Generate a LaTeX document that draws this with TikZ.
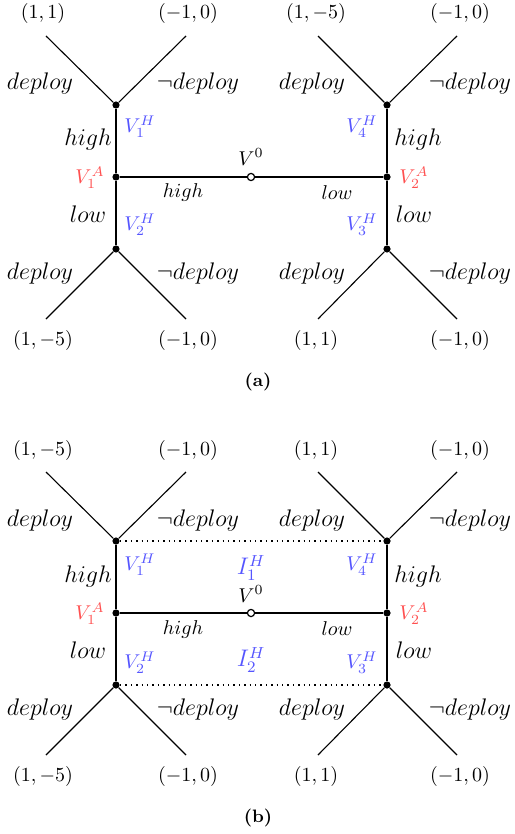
\documentclass[tikz,border=0pt]{standalone}
\usepackage{amsmath}
\definecolor{hblue}{RGB}{85,85,255}
\definecolor{ared}{RGB}{255,80,80}
\begin{document}
\begin{tikzpicture}[x=0.5pt,y=-0.5pt,
  dot/.style={circle,fill=black,inner sep=0pt,minimum size=3.6pt},
  odot/.style={circle,draw=black,fill=white,line width=0.6pt,inner sep=0pt,minimum size=3.6pt},
  edge/.style={line width=0.55pt},
  dotedge/.style={line width=0.7pt,dotted},
  txt/.style={inner sep=0.5pt},
  act/.style={txt,font=\fontsize{12}{14}\selectfont},
  side/.style={txt,font=\fontsize{11.5}{14}\selectfont},
  mid/.style={txt,font=\fontsize{10}{12}\selectfont},
  pay/.style={txt,font=\fontsize{9.8}{11}\selectfont},
  vh/.style={txt,text=hblue,font=\fontsize{10}{12}\selectfont},
  ih/.style={txt,text=hblue,font=\fontsize{12}{14}\selectfont},
  va/.style={txt,text=ared,font=\fontsize{10}{12}\selectfont},
  vz/.style={txt,font=\fontsize{10}{12}\selectfont},
  captxt/.style={txt,font=\fontsize{9}{11}\selectfont\bfseries}
]
\useasboundingbox (0,0) rectangle (514,834);

% ================= (a) =================
\node[dot] (a1A) at (116,177) {};
\node[dot] (a2A) at (387,177) {};
\node[odot] (a0) at (251,177) {};
\node[dot] (a1H) at (116,105) {};
\node[dot] (a2H) at (116,249) {};
\node[dot] (a4H) at (387,105) {};
\node[dot] (a3H) at (387,249) {};
\coordinate (a1Hl) at (46,36);
\coordinate (a1Hr) at (186,36);
\coordinate (a4Hl) at (318,36);
\coordinate (a4Hr) at (457,36);
\coordinate (a2Hl) at (46,319);
\coordinate (a2Hr) at (186,319);
\coordinate (a3Hl) at (318,319);
\coordinate (a3Hr) at (457,319);

\draw[edge] (a1A) -- (a0) -- (a2A);
\draw[edge] (a1H) -- (a1A) -- (a2H);
\draw[edge] (a4H) -- (a2A) -- (a3H);
\draw[edge] (a1Hl) -- (a1H) -- (a1Hr);
\draw[edge] (a4Hl) -- (a4H) -- (a4Hr);
\draw[edge] (a2Hl) -- (a2H) -- (a2Hr);
\draw[edge] (a3Hl) -- (a3H) -- (a3Hr);

\node[pay] (ap1) at (43,14) {$(1,1)$};
\node[pay] (ap2) at (188,14) {$(-1,0)$};
\node[pay] (ap3) at (316,14) {$(1,-5)$};
\node[pay] (ap4) at (460,14) {$(-1,0)$};
\node[pay] (ap5) at (43,340) {$(1,-5)$};
\node[pay] (ap6) at (188,340) {$(-1,0)$};
\node[pay] (ap7) at (316,340) {$(1,1)$};
\node[pay] (ap8) at (460,340) {$(-1,0)$};

\node[act] (ad1) at (40,84) {$deploy$};
\node[act] (ad2) at (198,84) {$\neg deploy$};
\node[act] (ad3) at (312,84) {$deploy$};
\node[act] (ad4) at (470,84) {$\neg deploy$};
\node[act] (ad5) at (40,273) {$deploy$};
\node[act] (ad6) at (198,273) {$\neg deploy$};
\node[act] (ad7) at (312,273) {$deploy$};
\node[act] (ad8) at (470,273) {$\neg deploy$};

\node[side] (ah1) at (88,140) {$high$};
\node[side] (ah2) at (418,140) {$high$};
\node[side] (al1) at (88,214) {$low$};
\node[side] (al2) at (414,214) {$low$};
\node[mid] (ahm) at (183,193) {$high$};
\node[mid] (alm) at (337,193) {$low$};

\node[vh] (aV1) at (140,127) {$V_1^H$};
\node[vh] (aV4) at (362,127) {$V_4^H$};
\node[vh] (aV2) at (140,225) {$V_2^H$};
\node[vh] (aV3) at (362,225) {$V_3^H$};
\node[va] (aA1) at (90,178) {$V_1^A$};
\node[va] (aA2) at (414,178) {$V_2^A$};
\node[vz] (aV0) at (251,157) {$V^0$};

\node[captxt] (capa) at (258,382) {(a)};

% ================= (b) =================
\begin{scope}[shift={(0,436)}]
\node[dot] (b1A) at (116,177) {};
\node[dot] (b2A) at (387,177) {};
\node[odot] (b0) at (251,177) {};
\node[dot] (b1H) at (116,105) {};
\node[dot] (b2H) at (116,249) {};
\node[dot] (b4H) at (387,105) {};
\node[dot] (b3H) at (387,249) {};
\coordinate (b1Hl) at (46,36);
\coordinate (b1Hr) at (186,36);
\coordinate (b4Hl) at (318,36);
\coordinate (b4Hr) at (457,36);
\coordinate (b2Hl) at (46,319);
\coordinate (b2Hr) at (186,319);
\coordinate (b3Hl) at (318,319);
\coordinate (b3Hr) at (457,319);

\draw[edge] (b1A) -- (b0) -- (b2A);
\draw[edge] (b1H) -- (b1A) -- (b2H);
\draw[edge] (b4H) -- (b2A) -- (b3H);
\draw[edge] (b1Hl) -- (b1H) -- (b1Hr);
\draw[edge] (b4Hl) -- (b4H) -- (b4Hr);
\draw[edge] (b2Hl) -- (b2H) -- (b2Hr);
\draw[edge] (b3Hl) -- (b3H) -- (b3Hr);
\draw[dotedge] (b1H) -- (b4H);
\draw[dotedge] (b2H) -- (b3H);

\node[pay] (bp1) at (43,14) {$(1,-5)$};
\node[pay] (bp2) at (188,14) {$(-1,0)$};
\node[pay] (bp3) at (316,14) {$(1,1)$};
\node[pay] (bp4) at (460,14) {$(-1,0)$};
\node[pay] (bp5) at (43,340) {$(1,-5)$};
\node[pay] (bp6) at (188,340) {$(-1,0)$};
\node[pay] (bp7) at (316,340) {$(1,1)$};
\node[pay] (bp8) at (460,340) {$(-1,0)$};

\node[act] (bd1) at (40,84) {$deploy$};
\node[act] (bd2) at (198,84) {$\neg deploy$};
\node[act] (bd3) at (312,84) {$deploy$};
\node[act] (bd4) at (470,84) {$\neg deploy$};
\node[act] (bd5) at (40,273) {$deploy$};
\node[act] (bd6) at (198,273) {$\neg deploy$};
\node[act] (bd7) at (312,273) {$deploy$};
\node[act] (bd8) at (470,273) {$\neg deploy$};

\node[side] (bh1) at (88,140) {$high$};
\node[side] (bh2) at (418,140) {$high$};
\node[side] (bl1) at (88,214) {$low$};
\node[side] (bl2) at (414,214) {$low$};
\node[mid] (bhm) at (183,193) {$high$};
\node[mid] (blm) at (337,193) {$low$};

\node[vh] (bV1) at (140,129) {$V_1^H$};
\node[vh] (bV4) at (362,129) {$V_4^H$};
\node[vh] (bV2) at (140,227) {$V_2^H$};
\node[vh] (bV3) at (362,227) {$V_3^H$};
\node[ih] (bI1) at (251,132) {$I_1^H$};
\node[ih] (bI2) at (251,224) {$I_2^H$};
\node[va] (bA1) at (90,178) {$V_1^A$};
\node[va] (bA2) at (414,178) {$V_2^A$};
\node[vz] (bV0) at (251,158) {$V^0$};

\node[captxt] (capb) at (258,382) {(b)};
\end{scope}
\end{tikzpicture}
\end{document}
